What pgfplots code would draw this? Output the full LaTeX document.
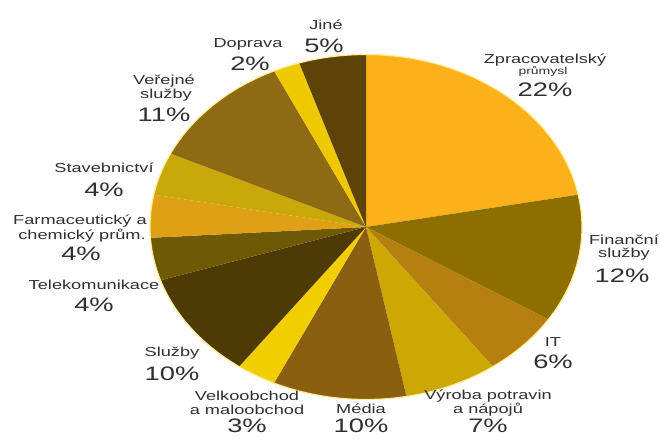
\documentclass[border=0pt]{standalone}
\usepackage{pgfplots}
\usepackage{pgfplotstable}
\pgfplotsset{compat=1.18}
\usepackage{fontspec}
\setmainfont{Liberation Sans}
\newfontfamily\lblfont[FakeStretch=1.4]{Liberation Sans}

\definecolor{slice0}{HTML}{FBB21A}
\definecolor{slice1}{HTML}{8F6E00}
\definecolor{slice2}{HTML}{B5800F}
\definecolor{slice3}{HTML}{CDA805}
\definecolor{slice4}{HTML}{8A6010}
\definecolor{slice5}{HTML}{F2CE00}
\definecolor{slice6}{HTML}{4D3A05}
\definecolor{slice7}{HTML}{6E5A05}
\definecolor{slice8}{HTML}{E0A015}
\definecolor{slice9}{HTML}{C9A80A}
\definecolor{slice10}{HTML}{8E6A12}
\definecolor{slice11}{HTML}{EEC800}
\definecolor{slice12}{HTML}{5E4308}
\definecolor{txt}{HTML}{303030}

% share in percent, clockwise from 12 o'clock
\pgfplotstableread[col sep=comma]{
name,value
Zpracovatelsky prumysl,22
Financni sluzby,12
IT,6
Vyroba potravin a napoju,7
Media,10
Velkoobchod a maloobchod,3
Sluzby,10
Telekomunikace,4
Farmaceuticky a chemicky prum.,4
Stavebnictvi,4
Verejne sluzby,11
Doprava,2
Jine,5
}\piedata

\newcommand\nm[3]{\node[text=txt,font=\lblfont\fontsize{13}{13}\selectfont,inner sep=0pt] at ({#1pt},{439pt-#2pt}) {#3};}
\newcommand\sm[3]{\node[text=txt,font=\lblfont\fontsize{10}{10}\selectfont,inner sep=0pt] at ({#1pt},{439pt-#2pt}) {#3};}
\newcommand\pc[3]{\node[text=txt,font=\lblfont\fontsize{19.5}{19.5}\selectfont,inner sep=0pt] at ({#1pt},{439pt-#2pt}) {#3};}

\begin{document}
\begin{tikzpicture}[x=1pt,y=1pt]
\path[use as bounding box] (0,0) rectangle (660,439);
\begin{axis}[
  at={(366pt,212pt)}, anchor=center,
  scale only axis, width=432pt, height=345pt,
  xmin=-1, xmax=1, ymin=-1, ymax=1,
  hide axis, clip=false]
\pgfplotstablegetrowsof{\piedata}
\pgfmathtruncatemacro\nrows{\pgfplotsretval-1}
\def\cum{90}
\pgfplotsforeachungrouped \i in {0,...,\nrows}{%
  \pgfplotstablegetelem{\i}{value}\of\piedata
  \let\v\pgfplotsretval
  \pgfmathsetmacro\endang{\cum-3.6*\v}%
  \pgfmathsetmacro\sx{cos(\cum)}%
  \pgfmathsetmacro\sy{sin(\cum)}%
  \edef\temp{\noexpand\fill[slice\i] (axis cs:0,0) -- (axis cs:\sx,\sy) arc[start angle=\cum, end angle=\endang, x radius=216pt, y radius=172.5pt] -- cycle;}%
  \temp
  \global\let\cum\endang
}
\draw[draw={rgb,255:red,255;green,236;blue,150}, line width=1.2pt] (axis cs:0,0) ellipse[x radius=216pt, y radius=172.5pt];
\end{axis}
% labels
\nm{326}{25}{Jiné}\pc{324}{46}{5\%}
\nm{248}{44}{Doprava}\pc{250}{64}{2\%}
\nm{545}{60}{Zpracovatelský}\sm{543}{72}{průmysl}\pc{545}{90}{22\%}
\nm{164}{81}{Veřejné}\nm{166}{95}{služby}\pc{164}{115}{11\%}
\nm{104}{168}{Stavebnictví}\pc{104}{190}{4\%}
\nm{80}{221}{Farmaceutický a}\nm{82}{236}{chemický prům.}\pc{81}{254}{4\%}
\nm{94}{285}{Telekomunikace}\pc{94}{305}{4\%}
\nm{172}{353}{Služby}\pc{172}{374}{10\%}
\nm{247}{396}{Velkoobchod}\nm{247}{410}{a maloobchod}\pc{247}{426}{3\%}
\nm{361}{409}{Média}\pc{361}{426}{10\%}
\nm{488}{396}{Výroba potravin}\nm{488}{410}{a nápojů}\pc{488}{426}{7\%}
\nm{553}{342}{IT}\pc{553}{362}{6\%}
\nm{624}{240}{Finanční}\nm{624}{254}{služby}\pc{622}{276}{12\%}
\end{tikzpicture}
\end{document}
